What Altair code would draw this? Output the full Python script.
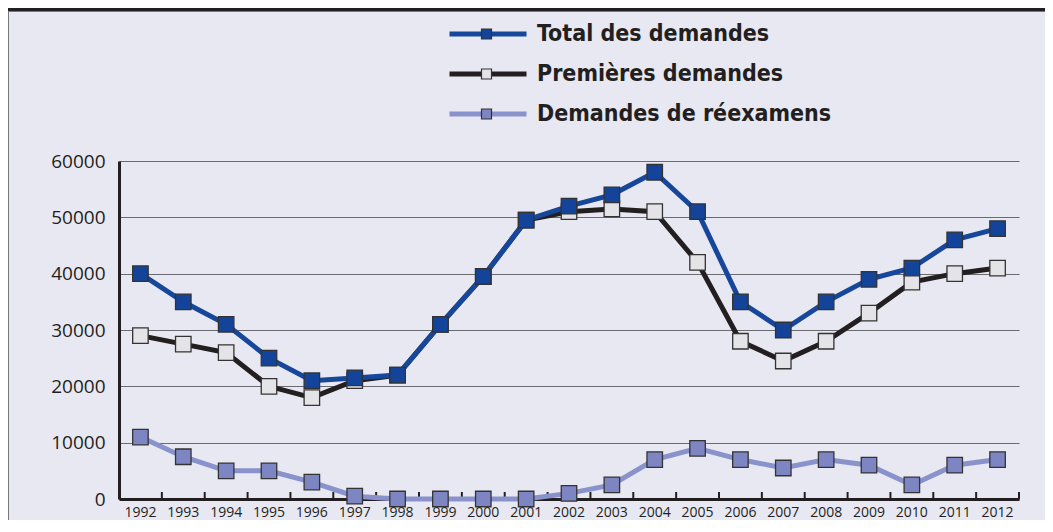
import altair as alt
import pandas as pd

# ---------------- data ----------------
annees = [str(y) for y in range(1992, 2013)]
total = [40000, 35000, 31000, 25000, 21000, 21500, 22000, 31000, 39500, 49500,
         52000, 54000, 58000, 51000, 35000, 30000, 35000, 39000, 41000, 46000, 48000]
premieres = [29000, 27500, 26000, 20000, 18000, 21000, 22000, 31000, 39500, 49500,
             51000, 51500, 51000, 42000, 28000, 24500, 28000, 33000, 38500, 40000, 41000]
reexamens = [11000, 7500, 5000, 5000, 3000, 500, 0, 0, 0, 0,
             1000, 2500, 7000, 9000, 7000, 5500, 7000, 6000, 2500, 6000, 7000]
series = ["Total des demandes", "Premières demandes", "Demandes de réexamens"]
codes = ["t", "p", "r"]
y_ticks = [0, 10000, 20000, 30000, 40000, 50000, 60000]

line_colors = ["#17479a", "#231f20", "#8a92cc"]
fill_colors = ["#13449a", "#e4e4e8", "#7d86c2"]

rows = []
for name, code, vals in zip(series, codes, [total, premieres, reexamens]):
    for a, v in zip(annees, vals):
        rows.append({"annee": a, "valeur": v, "serie": name, "code": code})
df = pd.DataFrame(rows)

# ---------------- layout ----------------
W, H = 900, 338
TOP, BOT = 153, 21
PAD = {"left": 111, "top": TOP, "right": 26, "bottom": BOT}
LX, LY = 328, -147
TXT = "#231f20"
LEG_FONT = "DejaVu Sans Condensed"
AX_FONT = "Open Sans"


def x_enc(bp=0.5):
    return alt.X(
        "annee:O",
        bandPosition=bp,
        scale=alt.Scale(type="band", paddingInner=0, paddingOuter=0),
        axis=alt.Axis(title=None, labelAngle=0, ticks=False, grid=False,
                      labelFont=AX_FONT, labelFontSize=14, labelColor=TXT,
                      labelPadding=6, domainColor=TXT, domainWidth=3),
    )


y_enc = alt.Y(
    "valeur:Q",
    scale=alt.Scale(domain=[0, 60000], nice=False),
    axis=alt.Axis(title=None, values=y_ticks, format="d", ticks=False,
                  labelPadding=14, labelFont=AX_FONT, labelFontSize=19,
                  labelColor=TXT, domainColor=TXT, domainWidth=3,
                  gridColor="#6a6a70", gridWidth=1),
)

common_leg = dict(orient="none", legendX=LX, legendY=LY, title=None,
                  symbolSize=77 * 77, clipHeight=40, rowPadding=0, padding=0,
                  labelFont=LEG_FONT, labelFontSize=23, labelFontWeight="bold",
                  labelColor=TXT, labelOffset=8, labelLimit=500)

stroke_enc = alt.Stroke(
    "serie:N",
    scale=alt.Scale(domain=series, range=line_colors),
    legend=alt.Legend(symbolType="stroke", symbolStrokeWidth=5, **common_leg),
)
fill_enc = alt.Fill(
    "code:N",
    scale=alt.Scale(domain=codes, range=fill_colors),
    legend=alt.Legend(symbolType="M-0.13,-0.13H0.13V0.13H-0.13Z",
                      symbolStrokeColor="#333333", symbolStrokeWidth=1.2,
                      labelOpacity=0, labelExpr="''", **common_leg),
)

base = alt.Chart(df)

layers = []
# decorations: top dark band and frame lines
deco = pd.DataFrame({"k": [0]})
layers.append(alt.Chart(deco).mark_rect(color=TXT).encode(
    x=alt.value(-111), x2=alt.value(926), y=alt.value(-TOP), y2=alt.value(-TOP + 3)))
layers.append(alt.Chart(deco).mark_rule(color="#77777c", strokeWidth=1).encode(
    x=alt.value(-111), x2=alt.value(926), y=alt.value(-TOP + 3.5)))
layers.append(alt.Chart(deco).mark_rule(color="#77777c", strokeWidth=1).encode(
    x=alt.value(-110.5), y=alt.value(-TOP + 3), y2=alt.value(H + BOT)))

# axis tick marks between years (pointing inward)
layers.append(base.transform_filter(alt.datum.code == "t").mark_rule(
    color=TXT, strokeWidth=2).encode(
    x=x_enc(1), y=alt.value(H - 7), y2=alt.value(H)))

# series: draw Réexamens first, Total last
for name, code in reversed(list(zip(series, codes))):
    sub = base.transform_filter(alt.datum.code == code)
    layers.append(sub.mark_line(strokeWidth=5).encode(
        x=x_enc(), y=y_enc, stroke=stroke_enc))
    layers.append(sub.mark_square(size=240, stroke="#333333", strokeWidth=1.3,
                                  opacity=1).encode(
        x=x_enc(), y=y_enc, fill=fill_enc))

chart = alt.layer(*layers).properties(
    width=W, height=H, padding=PAD,
    autosize=alt.AutoSizeParams(type="none"),
    background="#e8e8f2",
).configure_view(stroke=None)

chart.save("out.html", embed_options={"renderer": "svg", "actions": False})
